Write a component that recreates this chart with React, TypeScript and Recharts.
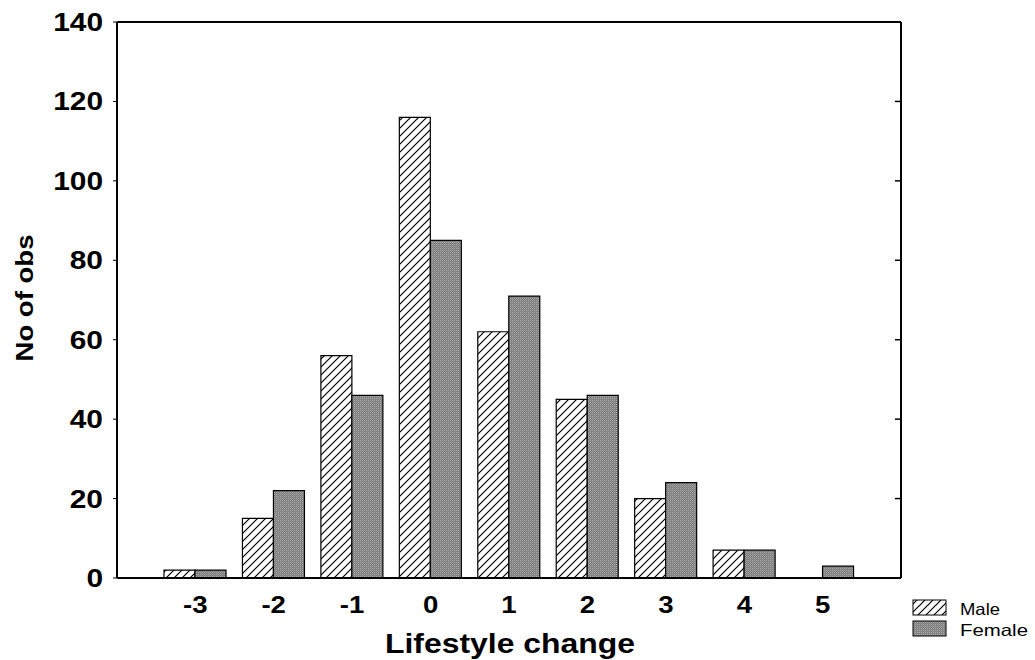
import React from "react";
import { BarChart, Bar, XAxis, YAxis } from "recharts";

const categories = ["-3", "-2", "-1", "0", "1", "2", "3", "4", "5"];
const maleValues = [2, 15, 56, 116, 62, 45, 20, 7, 0];
const femaleValues = [2, 22, 46, 85, 71, 46, 24, 7, 3];
const yTicks = [0, 20, 40, 60, 80, 100, 120, 140];
const seriesNames = ["Male", "Female"];
const xTitle = "Lifestyle change";
const yTitle = "No of obs";

const data = categories.map((c, i) => ({
  name: c,
  Male: maleValues[i],
  Female: femaleValues[i],
}));

const CHART_W = 1035;
const CHART_H = 660;
const MARGIN_RIGHT = 133;
const RIGHT_AXIS_X = CHART_W - MARGIN_RIGHT - 1;

const FONT = "'Liberation Sans', Arial, Helvetica, sans-serif";
const SX = 1.15;

const XTick = (props: any) => {
  const { x, y, payload } = props;
  return (
    <g transform={`translate(${x},${y}) scale(${SX},1)`}>
      <text x={0} y={0} dy={27} textAnchor="middle" fontFamily={FONT} fontSize={24} fontWeight="bold" fill="#000">
        {payload.value}
      </text>
    </g>
  );
};

const YTick = (props: any) => {
  const { x, y, payload } = props;
  return (
    <g>
      <g transform={`translate(${x},${y}) scale(${SX},1)`}>
        <text x={0} y={0} dy={9} textAnchor="end" fontFamily={FONT} fontSize={26} fontWeight="bold" fill="#000">
          {payload.value}
        </text>
      </g>
      <line x1={RIGHT_AXIS_X - 6} x2={RIGHT_AXIS_X} y1={y} y2={y} stroke="#000" strokeWidth={1.5} />
    </g>
  );
};

const XTitle = () => (
  <text x={510} y={653} textAnchor="middle" fontFamily={FONT} fontSize={27} fontWeight="bold" fill="#000"
    textLength={250} lengthAdjust="spacingAndGlyphs">
    {xTitle}
  </text>
);

const YTitle = () => (
  <text x={33} y={298} transform="rotate(-90,33,298)" textAnchor="middle" fontFamily={FONT} fontSize={24} fontWeight="bold" fill="#000"
    textLength={127} lengthAdjust="spacingAndGlyphs">
    {yTitle}
  </text>
);

export default function App() {
  return (
    <div style={{ position: "absolute", left: 0, top: 0, width: CHART_W, height: CHART_H, background: "#fff" }}>
      <BarChart
        width={CHART_W}
        height={CHART_H}
        data={data}
        margin={{ top: 21, right: MARGIN_RIGHT, bottom: 0, left: 0 }}
        barGap={0}
        barCategoryGap={8}
      >
        <defs>
          <pattern id="hatchMale" patternUnits="userSpaceOnUse" width={8} height={8}>
            <rect width={8} height={8} fill="#fff" />
            <path d="M-2,2 L2,-2 M0,8 L8,0 M6,10 L10,6" stroke="#000" strokeWidth={1.2} />
          </pattern>
          <pattern id="dotFemale" patternUnits="userSpaceOnUse" width={2} height={2}>
            <rect width={2} height={2} fill="#7c7c7c" />
            <rect x={0} y={0} width={1} height={1} fill="#adadad" />
            <rect x={1} y={1} width={1} height={1} fill="#8e8e8e" />
          </pattern>
        </defs>
        <XAxis
          dataKey="name"
          padding={{ left: 39, right: 39 }}
          tickLine={false}
          axisLine={{ stroke: "#000", strokeWidth: 2 }}
          tick={<XTick />}
          height={82}
          label={<XTitle />}
        />
        <XAxis
          xAxisId="top"
          orientation="top"
          dataKey="name"
          height={1}
          tickLine={false}
          tickFormatter={() => ""}
          axisLine={{ stroke: "#000", strokeWidth: 2 }}
        />
        <YAxis
          yAxisId="left"
          domain={[0, 140]}
          ticks={yTicks}
          width={117}
          tickSize={4}
          tickLine={{ stroke: "#000" }}
          axisLine={{ stroke: "#000", strokeWidth: 2 }}
          tick={<YTick />}
          tickMargin={10}
          label={<YTitle />}
        />
        <YAxis
          yAxisId="right"
          orientation="right"
          domain={[0, 140]}
          ticks={yTicks}
          width={1}
          tickLine={false}
          tick={false}
          axisLine={{ stroke: "#000", strokeWidth: 2 }}
        />
        <Bar xAxisId={0} yAxisId="left" dataKey="Male" fill="url(#hatchMale)" stroke="#000" strokeWidth={1.2} isAnimationActive={false} />
        <Bar xAxisId={0} yAxisId="left" dataKey="Female" fill="url(#dotFemale)" stroke="#000" strokeWidth={1.2} isAnimationActive={false} />
      </BarChart>
      <svg width={130} height={44} style={{ position: "absolute", left: 911, top: 598, overflow: "visible" }}>
        <rect x={2} y={2} width={33} height={15} fill="url(#hatchMale)" stroke="#000" strokeWidth={1} />
        <text x={49} y={17} fontFamily={FONT} fontSize={16.5} fill="#000" textLength={40} lengthAdjust="spacingAndGlyphs">{seriesNames[0]}</text>
        <rect x={2} y={23} width={33} height={15} fill="url(#dotFemale)" stroke="#000" strokeWidth={1} />
        <text x={49} y={38} fontFamily={FONT} fontSize={16.5} fill="#000" textLength={68} lengthAdjust="spacingAndGlyphs">{seriesNames[1]}</text>
      </svg>
    </div>
  );
}
